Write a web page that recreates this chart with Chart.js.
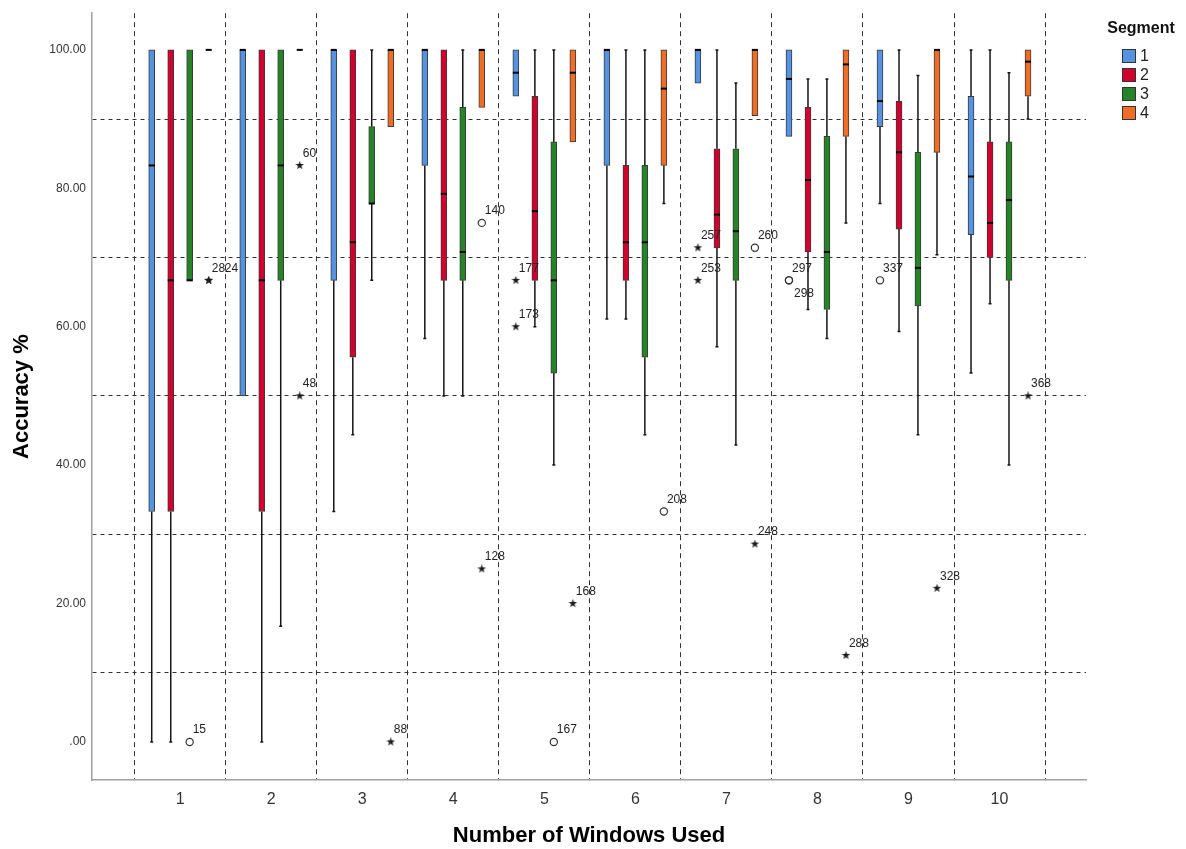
<!DOCTYPE html>
<html>
<head>
<meta charset="utf-8">
<script src="https://cdn.jsdelivr.net/npm/chart.js@4.4.1/dist/chart.umd.min.js"></script>
<style>
	body { margin: 0; background: #fff; }
	#wrap { width: 1186px; height: 849px; }
</style>
</head>
<body>
<div id="wrap"><canvas id="chart" width="1186" height="849"></canvas></div>
<script>
const windowsUsed = [1, 2, 3, 4, 5, 6, 7, 8, 9, 10];
const segmentNames = ['1', '2', '3', '4'];
const segmentColors = ['#5592df', '#d2002d', '#268428', '#f06d26'];

// [min, q1, median, q3, max] for each number of windows
const segment1 = [
	[0, 33.3, 83.3, 100, 100], [50, 50, 100, 100, 100], [33.3, 66.7, 100, 100, 100],
	[58.3, 83.3, 100, 100, 100], [93.3, 93.3, 96.7, 100, 100], [61.1, 83.3, 100, 100, 100],
	[95.2, 95.2, 100, 100, 100], [87.5, 87.5, 95.8, 100, 100], [77.8, 88.9, 92.6, 100, 100],
	[53.3, 73.3, 81.7, 93.3, 100]
];
const segment2 = [
	[0, 33.3, 66.7, 100, 100], [0, 33.3, 66.7, 100, 100], [44.4, 55.6, 72.2, 100, 100],
	[50, 66.7, 79.2, 100, 100], [60, 66.7, 76.7, 93.3, 100], [61.1, 66.7, 72.2, 83.3, 100],
	[57.1, 71.4, 76.2, 85.7, 100], [62.5, 70.8, 81.2, 91.7, 95.8], [59.3, 74.1, 85.2, 92.6, 100],
	[63.3, 70, 75, 86.7, 100]
];
const segment3 = [
	[66.7, 66.7, 66.7, 100, 100], [16.7, 66.7, 83.3, 100, 100], [66.7, 77.8, 77.8, 88.9, 100],
	[50, 66.7, 70.8, 91.7, 100], [40, 53.3, 66.7, 86.7, 100], [44.4, 55.6, 72.2, 83.3, 100],
	[42.9, 66.7, 73.8, 85.7, 95.2], [58.3, 62.5, 70.8, 87.5, 95.8], [44.4, 63, 68.5, 85.2, 96.3],
	[40, 66.7, 78.3, 86.7, 96.7]
];
const segment4 = [
	[100, 100, 100, 100, 100], [100, 100, 100, 100, 100], [88.9, 88.9, 100, 100, 100],
	[91.7, 91.7, 100, 100, 100], [86.7, 86.7, 96.7, 100, 100], [77.8, 83.3, 94.4, 100, 100],
	[90.5, 90.5, 100, 100, 100], [75, 87.5, 97.9, 100, 100], [70.4, 85.2, 100, 100, 100],
	[90, 93.3, 98.3, 100, 100]
];
const segmentStats = [segment1, segment2, segment3, segment4];

// [windows, segment, value, case]
const mildOutliers = [
	[1, 3, 0, '15'], [4, 4, 75, '140'], [5, 3, 0, '167'], [6, 4, 33.3, '208'],
	[7, 4, 71.4, '260'], [8, 1, 66.7, '297'], [8, 1, 66.7, '298'], [9, 1, 66.7, '337']
];
const extremeOutliers = [
	[1, 4, 66.7, '28'], [1, 4, 66.7, '24'], [2, 4, 83.3, '60'], [2, 4, 50, '48'],
	[3, 4, 0, '88'], [4, 4, 25, '128'], [5, 1, 66.7, '177'], [5, 1, 60, '173'],
	[5, 4, 20, '168'], [7, 1, 71.4, '257'], [7, 1, 66.7, '253'], [7, 4, 28.6, '248'],
	[8, 4, 12.5, '288'], [9, 4, 22.2, '328'], [10, 4, 50, '368']
];

const yTickValues = [0, 10, 20, 30, 40, 50, 60, 70, 80, 90, 100];
const xTickValues = [0.5, 1, 1.5, 2, 2.5, 3, 3.5, 4, 4.5, 5, 5.5, 6, 6.5, 7, 7.5, 8, 8.5, 9, 9.5, 10, 10.5];

const segmentOffset = [-0.313, -0.104, 0.104, 0.313];
const labelShift = { '24': [16, -12], '298': [5, 13] };

function makeStar(size) {
	const canvas = document.createElement('canvas');
	canvas.width = size;
	canvas.height = size;
	const g = canvas.getContext('2d');
	g.fillStyle = '#1a1a1a';
	g.beginPath();
	for (let i = 0; i < 10; i++) {
		const r = i % 2 === 0 ? size / 2 : size / 5;
		const a = -Math.PI / 2 + i * Math.PI / 5;
		g.lineTo(size / 2 + r * Math.cos(a), size / 2 + r * Math.sin(a));
	}
	g.closePath();
	g.fill();
	return canvas;
}

function outlierPoints(list) {
	return list.map(o => ({ x: o[0] + segmentOffset[o[1] - 1], y: o[2], id: o[3] }));
}

class BoxplotChart {
	constructor(context) {
		this.context = context;
		this.chart = null;
		this.initializeChart();
	}

	boxDatasets() {
		return segmentNames.map((name, s) => ({
			type: 'bar',
			label: name,
			data: segmentStats[s].map((st, i) => ({ x: windowsUsed[i] + segmentOffset[s], y: [st[1], st[3]] })),
			backgroundColor: segmentColors[s],
			borderColor: '#3a3a3a',
			borderWidth: 1,
			borderSkipped: false,
			barThickness: 6,
			grouped: false,
			order: 2
		}));
	}

	// whiskers and caps go under the boxes
	drawWhiskers(chart) {
		const ctx = chart.ctx;
		const y = chart.scales.y;
		ctx.save();
		ctx.strokeStyle = '#151515';
		ctx.lineWidth = 1.5;
		segmentStats.forEach((stats, s) => {
			const meta = chart.getDatasetMeta(s);
			stats.forEach((st, i) => {
				const x = meta.data[i].x;
				if (st[0] < st[1]) {
					ctx.beginPath();
					ctx.moveTo(x, y.getPixelForValue(st[0]));
					ctx.lineTo(x, y.getPixelForValue(st[1]));
					ctx.moveTo(x - 1.5, y.getPixelForValue(st[0]));
					ctx.lineTo(x + 1.5, y.getPixelForValue(st[0]));
					ctx.stroke();
				}
				if (st[4] > st[3]) {
					ctx.beginPath();
					ctx.moveTo(x, y.getPixelForValue(st[3]));
					ctx.lineTo(x, y.getPixelForValue(st[4]));
					ctx.moveTo(x - 1.5, y.getPixelForValue(st[4]));
					ctx.lineTo(x + 1.5, y.getPixelForValue(st[4]));
					ctx.stroke();
				}
			});
		});
		ctx.restore();
	}

	drawMedians(chart) {
		const ctx = chart.ctx;
		const y = chart.scales.y;
		ctx.save();
		ctx.strokeStyle = '#000';
		ctx.lineWidth = 2;
		segmentStats.forEach((stats, s) => {
			const meta = chart.getDatasetMeta(s);
			stats.forEach((st, i) => {
				const x = meta.data[i].x;
				const py = y.getPixelForValue(st[2]);
				ctx.beginPath();
				ctx.moveTo(x - 3, py);
				ctx.lineTo(x + 3, py);
				ctx.stroke();
			});
		});
		ctx.restore();
	}

	drawCaseLabels(chart) {
		const ctx = chart.ctx;
		ctx.save();
		ctx.font = '12px "Liberation Sans", Arial, sans-serif';
		ctx.fillStyle = '#222';
		ctx.textAlign = 'left';
		ctx.textBaseline = 'middle';
		[4, 5].forEach(d => {
			const meta = chart.getDatasetMeta(d);
			chart.data.datasets[d].data.forEach((p, j) => {
				const shift = labelShift[p.id] || [3, -12];
				ctx.fillText(p.id, meta.data[j].x + shift[0], meta.data[j].y + shift[1]);
			});
		});
		ctx.restore();
	}

	drawLegend(chart) {
		const ctx = chart.ctx;
		const left = chart.chartArea.right;
		ctx.save();
		ctx.fillStyle = '#111';
		ctx.font = 'bold 16px "Liberation Sans", Arial, sans-serif';
		ctx.textAlign = 'center';
		ctx.textBaseline = 'middle';
		ctx.fillText('Segment', left + 55, 29);
		ctx.font = '16px "Liberation Sans", Arial, sans-serif';
		ctx.textAlign = 'left';
		segmentNames.forEach((name, s) => {
			const top = 49 + s * 19;
			ctx.fillStyle = segmentColors[s];
			ctx.fillRect(left + 36, top, 14, 14);
			ctx.strokeStyle = '#333';
			ctx.lineWidth = 1;
			ctx.strokeRect(left + 36.5, top + 0.5, 13, 13);
			ctx.fillStyle = '#222';
			ctx.fillText(name, left + 54, top + 7.5);
		});
		ctx.restore();
	}

	initializeChart() {
		const self = this;
		const star = makeStar(9);
		const datasets = this.boxDatasets();
		datasets.push({
			type: 'scatter',
			label: 'mild',
			data: outlierPoints(mildOutliers),
			pointStyle: 'circle',
			pointRadius: 3.6,
			backgroundColor: 'rgba(255,255,255,0)',
			borderColor: '#333',
			borderWidth: 1.2,
			order: 1
		});
		datasets.push({
			type: 'scatter',
			label: 'extreme',
			data: outlierPoints(extremeOutliers),
			pointStyle: star,
			pointRadius: 4.5,
			order: 1
		});

		this.chart = new Chart(this.context, {
			type: 'bar',
			data: { datasets: datasets },
			options: {
				responsive: false,
				animation: false,
				devicePixelRatio: 1,
				layout: { padding: { top: 12, right: 100, left: 0, bottom: 0 } },
				plugins: {
					legend: { display: false },
					tooltip: { enabled: false }
				},
				scales: {
					x: {
						type: 'linear',
						min: 0.031,
						max: 10.95,
						offset: false,
						afterBuildTicks: scale => { scale.ticks = xTickValues.map(v => ({ value: v })); },
						afterFit: scale => { scale.height = 69; },
						ticks: {
							autoSkip: false,
							maxRotation: 0,
							padding: 10,
							color: '#333',
							font: { family: '"Liberation Sans Narrow", "Liberation Sans", Arial, sans-serif', size: 16 },
							callback: v => Number.isInteger(v) ? String(v) : ''
						},
						grid: {
							offset: false,
							drawTicks: false,
							lineWidth: 1,
							color: c => (c.tick && !Number.isInteger(c.tick.value)) ? '#333' : 'rgba(0,0,0,0)'
						},
						border: { color: '#a0a0a0', width: 1.5, dash: [5, 4] },
						title: {
							display: true,
							text: 'Number of Windows Used',
							color: '#000',
							font: { family: '"Liberation Sans", Arial, sans-serif', size: 22, weight: 'bold' },
							padding: { top: 0, bottom: 0 }
						}
					},
					y: {
						min: -5.5,
						max: 105.3,
						afterBuildTicks: scale => { scale.ticks = yTickValues.map(v => ({ value: v })); },
						afterFit: scale => { scale.width = 92; },
						ticks: {
							autoSkip: false,
							padding: 6,
							color: '#333',
							font: { family: '"Liberation Sans", Arial, sans-serif', size: 12 },
							callback: v => v % 20 === 0 ? (v === 0 ? '.00' : v.toFixed(2)) : ''
						},
						grid: {
							drawTicks: false,
							lineWidth: 1,
							color: c => (c.tick && c.tick.value % 20 === 10) ? '#333' : 'rgba(0,0,0,0)'
						},
						border: { color: '#a0a0a0', width: 1.5, dash: [4, 4] },
						title: {
							display: true,
							text: 'Accuracy %',
							color: '#000',
							font: { family: '"Liberation Sans", Arial, sans-serif', size: 22, weight: 'bold' },
							padding: { top: 9, bottom: 0 }
						}
					}
				}
			},
			plugins: [{
				id: 'boxplotParts',
				beforeDatasetsDraw: chart => self.drawWhiskers(chart),
				afterDatasetsDraw: chart => {
					self.drawMedians(chart);
					self.drawCaseLabels(chart);
				},
				afterDraw: chart => self.drawLegend(chart)
			}]
		});
	}
}

new BoxplotChart(document.getElementById('chart').getContext('2d'));
</script>
</body>
</html>
